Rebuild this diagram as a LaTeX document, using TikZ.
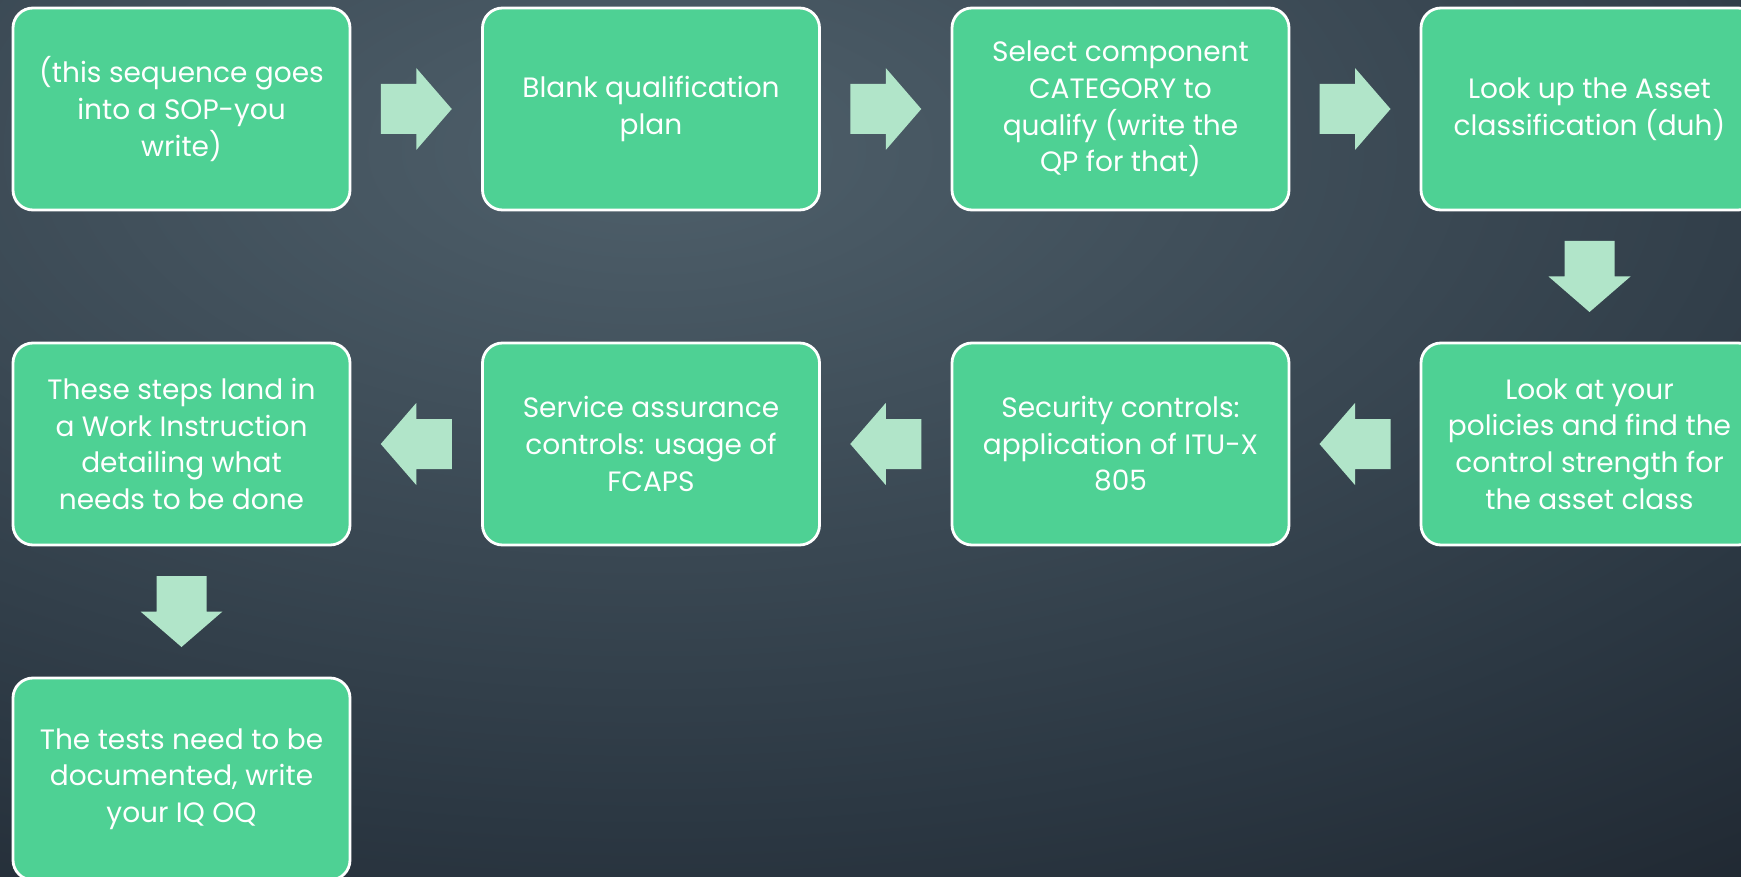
\documentclass[tikz,border=0pt]{standalone}
\usepackage{fontspec}
\setmainfont{Poppins}
\usetikzlibrary{calc}

\definecolor{boxgreen}{HTML}{4ED194}
\definecolor{arrowgreen}{HTML}{B1E5C9}
\definecolor{slateA}{HTML}{4F606B}
\definecolor{slateB}{HTML}{2B3742}
\definecolor{slateC}{HTML}{141820}

% soft slate backdrop, brightest near the top middle
\pgfdeclareradialshading{slate}{\pgfpoint{0bp}{0bp}}{%
  color(0bp)=(slateA); color(17bp)=(slateB); color(30bp)=(slateC); color(50bp)=(slateC)}

\begin{document}
\begin{tikzpicture}[x=0.5pt,y=-0.5pt,
  stepbox/.style={draw=white, line width=1.4pt, fill=boxgreen,
    rounded corners=10pt, minimum width=168.5pt, minimum height=101pt,
    align=center, text=white, inner sep=0pt,
    font=\fontsize{14}{18.3}\selectfont},
  arrowshape/.style={fill=arrowgreen},
  blockarrow/.pic={\fill[arrowshape] (-35.5,-25) -- (0,-25) -- (0,-41)
      -- (35.5,0) -- (0,41) -- (0,25) -- (-35.5,25) -- cycle;}
]
\useasboundingbox (0,0) rectangle (1741,877);
\clip (0,0) rectangle (1741,877);
\shade[shading=slate] (650,150) ellipse [x radius=2000, y radius=1000];

% first row, left to right
\node[stepbox] (a1) at (181.5,109) {(this sequence goes\\into a SOP-you\\write)};
\node[stepbox] (a2) at (651,109) {Blank qualification\\plan};
\node[stepbox] (a3) at (1120.5,109) {Select component\\CATEGORY to\\qualify (write the\\QP for that)};
\node[stepbox] (a4) at (1589.5,109) {Look up the Asset\\classification (duh)};

% second row, right to left
\node[stepbox] (b4) at (1589.5,444) {Look at your\\policies and find the\\control strength for\\the asset class};
\node[stepbox] (b3) at (1120.5,444) {Security controls:\\application of ITU-X\\805};
\node[stepbox] (b2) at (651,444) {Service assurance\\controls: usage of\\FCAPS};
\node[stepbox] (b1) at (181.5,444) {These steps land in\\a Work Instruction\\detailing what\\needs to be done};

% last step
\node[stepbox] (c1) at (181.5,779) {The tests need to be\\documented, write\\your IQ OQ};

% block arrows between the steps
\pic at ($(a1.east)!0.5!(a2.west)$) {blockarrow};
\pic at ($(a2.east)!0.5!(a3.west)$) {blockarrow};
\pic at ($(a3.east)!0.5!(a4.west)$) {blockarrow};
\pic[rotate=-90] at ($(a4.south)!0.5!(b4.north)$) {blockarrow};
\pic[rotate=180] at ($(b4.west)!0.5!(b3.east)$) {blockarrow};
\pic[rotate=180] at ($(b3.west)!0.5!(b2.east)$) {blockarrow};
\pic[rotate=180] at ($(b2.west)!0.5!(b1.east)$) {blockarrow};
\pic[rotate=-90] at ($(b1.south)!0.5!(c1.north)$) {blockarrow};
\end{tikzpicture}
\end{document}
